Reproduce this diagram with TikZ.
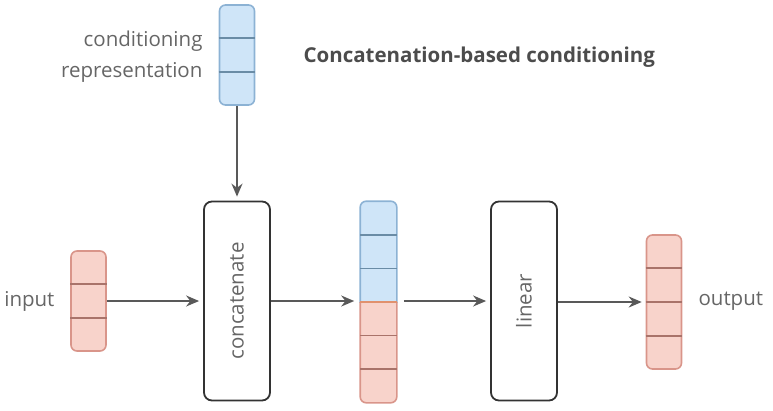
\documentclass[tikz,border=0pt]{standalone}
\usepackage{fontspec,graphicx}
\setmainfont{Open Sans}
\usetikzlibrary{arrows.meta,calc}

\begin{document}
\begin{tikzpicture}[x=1pt, y=-1pt]
  \definecolor{myblue}{HTML}{CFE5F8}
  \definecolor{mybluedraw}{HTML}{8CB2D4}
  \definecolor{mybluecut}{HTML}{6A8CA6}
  \definecolor{myred}{HTML}{F8D3CB}
  \definecolor{myreddraw}{HTML}{D9958A}
  \definecolor{myredcut}{HTML}{A9736A}
  \definecolor{mygray}{HTML}{666666}
  \tikzstyle{every node}=[font=\fontsize{20.5}{24}\selectfont, text=mygray]
  \tikzstyle{vec}=[rounded corners=6pt, minimum width=35pt, inner sep=0pt, line width=1.6pt]
  \tikzstyle{bluevec}=[vec, draw=mybluedraw, fill=myblue]
  \tikzstyle{redvec}=[vec, draw=myreddraw, fill=myred]
  \tikzstyle{op}=[draw=black!80, fill=white, rounded corners=8pt, minimum width=66pt, minimum height=199pt, line width=1.8pt, inner sep=0pt]
  \tikzstyle{arr}=[-{Stealth[length=13pt,width=11pt]}, draw=black!65, line width=1.8pt, shorten >=4pt]

  \useasboundingbox (0,0) rectangle (773,410);

  \node[bluevec, minimum height=100pt] (cond) at (237,55) {};
  \foreach \i in {1,2}
    \draw[mybluecut, line width=1.5pt] ($(cond.north west)!{\i/3}!(cond.south west)$) -- ($(cond.north east)!{\i/3}!(cond.south east)$);
  \node[anchor=east, align=right, font=\fontsize{20.5}{31}\selectfont] (condlbl) at (206,57) {conditioning\\representation};
  \node[anchor=west, font=\fontsize{20.5}{24}\selectfont\bfseries, text=black!70] (title) at (300,57) {Concatenation-based conditioning};

  \node[redvec, minimum height=100pt] (in) at (88.5,301) {};
  \foreach \i in {1,2}
    \draw[myredcut, line width=1.5pt] ($(in.north west)!{\i/3}!(in.south west)$) -- ($(in.north east)!{\i/3}!(in.south east)$);
  \node[anchor=east] (inlbl) at (58,301) {input};

  \node[op] (cat) at (237,301) {\rotatebox{90}{concatenate}};

  \node[vec, minimum height=200pt] (mid) at (378.5,302) {};
  \begin{scope}
    \clip[rounded corners=6pt] (mid.north west) rectangle (mid.south east);
    \fill[myblue] (mid.north west) rectangle (mid.east);
    \fill[myred] (mid.west) rectangle (mid.south east);
  \end{scope}
  \begin{scope}
    \clip ([shift={(-2,-2)}]mid.north west) rectangle ([shift={(2,0)}]mid.east);
    \draw[mybluedraw, line width=1.6pt, rounded corners=6pt] (mid.north west) rectangle (mid.south east);
  \end{scope}
  \begin{scope}
    \clip ([shift={(-2,0)}]mid.west) rectangle ([shift={(2,2)}]mid.south east);
    \draw[myreddraw, line width=1.6pt, rounded corners=6pt] (mid.north west) rectangle (mid.south east);
  \end{scope}
  \foreach \i in {1,2}
    \draw[mybluecut, line width=1.5pt] ($(mid.north west)!{\i/6}!(mid.south west)$) -- ($(mid.north east)!{\i/6}!(mid.south east)$);
  \foreach \i in {4,5}
    \draw[myredcut, line width=1.5pt] ($(mid.north west)!{\i/6}!(mid.south west)$) -- ($(mid.north east)!{\i/6}!(mid.south east)$);
  \draw[myreddraw!80!orange, line width=1.5pt] (mid.west) -- (mid.east);

  \node[op] (lin) at (524,301) {\rotatebox{90}{linear}};

  \node[redvec, minimum height=134pt] (out) at (664,302) {};
  \foreach \i in {1,2,3}
    \draw[myredcut, line width=1.5pt] ($(out.north west)!{\i/4}!(out.south west)$) -- ($(out.north east)!{\i/4}!(out.south east)$);
  \node[anchor=west] (outlbl) at (695,301) {output};

  \draw[arr] (cond.south) -- (cond.south |- cat.north);
  \draw[arr] (in.east) -- (in.east -| cat.west);
  \draw[arr, shorten >=6pt] (cat.east) -- (cat.east -| mid.west);
  \draw[arr, shorten <=7pt] (mid.east |- lin.west) -- (lin.west);
  \draw[arr] (lin.east |- out.west) -- (out.west);
\end{tikzpicture}
\end{document}
